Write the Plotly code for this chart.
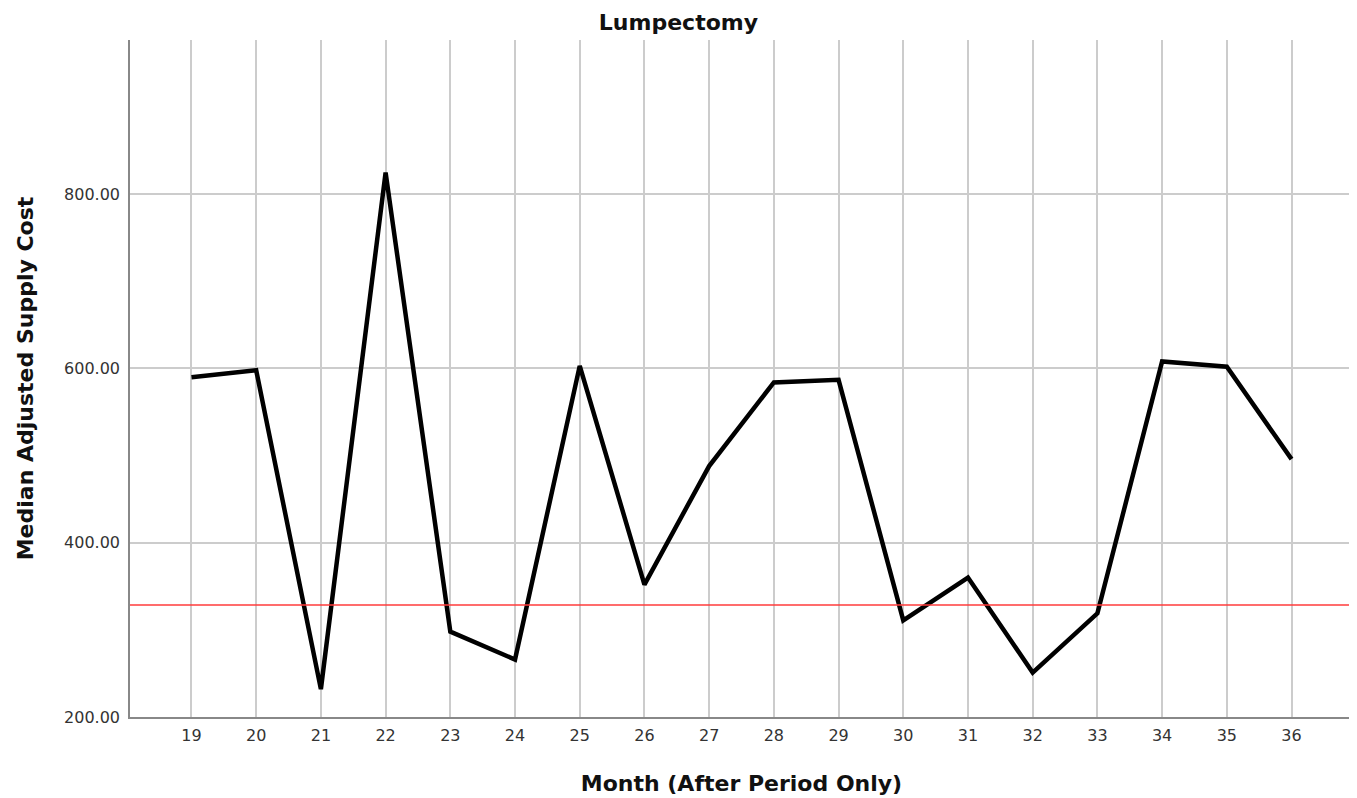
import plotly.graph_objects as go

months = [19, 20, 21, 22, 23, 24, 25, 26, 27, 28, 29, 30, 31, 32, 33, 34, 35, 36]
median_cost = [590, 598, 232, 825, 298, 266, 603, 352, 488, 584, 587, 311, 360, 251, 319, 608, 602, 496]
reference_value = 328.5
y_ticks = [200, 400, 600, 800]
y_tick_labels = ["200.00", "400.00", "600.00", "800.00"]

FONT = "DejaVu Sans"

fig = go.Figure()
fig.add_trace(go.Scatter(
    x=months, y=median_cost, mode="lines",
    line=dict(color="black", width=4.5),
    showlegend=False, hoverinfo="x+y",
))

fig.add_hline(y=reference_value, line=dict(color="#ff3b3b", width=1.6), layer="above")

fig.update_layout(
    width=1349, height=790,
    margin=dict(l=122, r=4, t=32, b=81),
    paper_bgcolor="white", plot_bgcolor="white",
    title=dict(text="<b>Lumpectomy</b>", x=0.497, xref="container", xanchor="center",
               y=0.982, yref="container", yanchor="middle",
               font=dict(family=FONT, size=22, color="#111")),
    font=dict(family=FONT, color="#333"),
)

fig.update_xaxes(
    range=[18.05, 36.95],
    tickmode="array", tickvals=months, ticktext=[str(m) for m in months],
    showgrid=True, gridcolor="#cccccc", gridwidth=1.5,
    showline=True, linecolor="#888888", linewidth=1.5,
    ticks="", tickfont=dict(family=FONT, size=16, color="#333"),
    ticklabelstandoff=3, automargin=False,
    zeroline=False,
    title=dict(text="<b>Month (After Period Only)</b>", standoff=32,
               font=dict(family=FONT, size=22, color="#111")),
)
fig.update_yaxes(
    range=[200, 977],
    tickmode="array", tickvals=y_ticks, ticktext=y_tick_labels,
    showgrid=True, gridcolor="#cccccc", gridwidth=1.5,
    showline=True, linecolor="#888888", linewidth=1.5,
    ticks="", tickfont=dict(family=FONT, size=16, color="#333"),
    ticklabelstandoff=5, automargin=False,
    zeroline=False,
    title=dict(text="<b>Median Adjusted Supply Cost</b>", standoff=24,
               font=dict(family=FONT, size=22, color="#111")),
)

fig.write_html("out.html")
